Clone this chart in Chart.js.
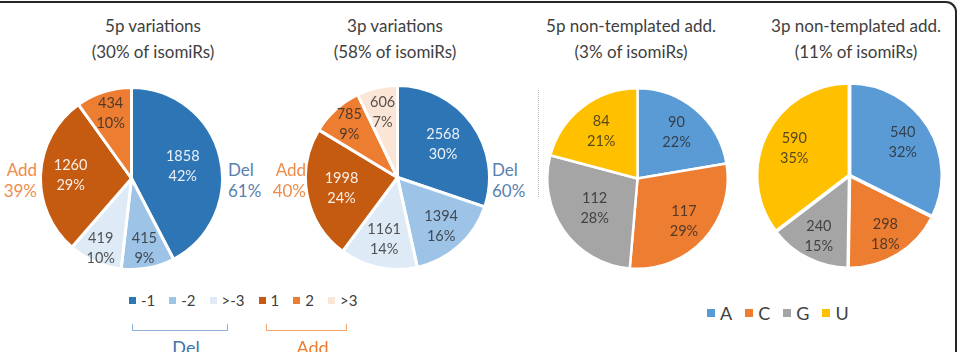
<!DOCTYPE html>
<html>
<head>
<meta charset="utf-8">
<script src="https://cdn.jsdelivr.net/npm/chart.js@4.4.1/dist/chart.umd.min.js"></script>
<style>
  html,body{margin:0;padding:0;background:#fff;}
  body{width:961px;height:352px;position:relative;overflow:hidden;font-family:Lato,"Open Sans",sans-serif;}
  #frame{position:absolute;left:-20px;top:1px;width:977px;height:400px;border-top:2px solid #262626;border-right:2px solid #262626;border-top-right-radius:11px;box-sizing:border-box;}
  canvas{position:absolute;}
  .title{position:absolute;text-align:center;color:#404040;font-size:17px;line-height:26px;white-space:nowrap;transform:translateX(-50%);}
  .side{position:absolute;font-size:17px;line-height:21px;white-space:nowrap;}
  .legend{position:absolute;display:flex;align-items:center;color:#404040;white-space:nowrap;}
  .legend .it{display:flex;align-items:center;}
  .legend .sw{display:inline-block;}
  .bracket{position:absolute;box-sizing:border-box;border:1.5px solid;border-top:none;}
  .blab{position:absolute;font-size:18px;transform:translateX(-50%);white-space:nowrap;}
  #sep{position:absolute;left:538px;top:90px;height:107px;width:0;border-left:1.5px dotted #b8b8b8;}
</style>
</head>
<body>
<div id="frame"></div>
<div id="sep"></div>

<script>
// ---------------- data ----------------
const varCategories = ["-1", "-2", ">-3", "1", "2", ">3"];
const fiveP_values  = [1858, 415, 419, 1260, 434, 0];
const fiveP_pcts    = [42, 9, 10, 29, 10, 0];
const threeP_values = [2568, 1394, 1161, 1998, 785, 606];
const threeP_pcts   = [30, 16, 14, 24, 9, 7];
const groupNames    = ["Del", "Add"];
const fiveP_groupPcts  = [61, 39];
const threeP_groupPcts = [60, 40];

const ntaCategories  = ["A", "C", "G", "U"];
const fiveNTA_values = [90, 117, 112, 84];
const fiveNTA_pcts   = [22, 29, 28, 21];
const threeNTA_values = [540, 298, 240, 590];
const threeNTA_pcts   = [32, 18, 15, 35];

const chartTitles = [
  ["5p variations", "(30% of isomiRs)"],
  ["3p variations", "(58% of isomiRs)"],
  ["5p non-templated add.", "(3% of isomiRs)"],
  ["3p non-templated add.", "(11% of isomiRs)"]
];

// ---------------- styles ----------------
const varColors = ["#2e75b6", "#9dc3e6", "#deebf7", "#c55a11", "#ed7d31", "#fbe5d6"];
const ntaColors = ["#5b9bd5", "#ed7d31", "#a5a5a5", "#ffc000"];
const DARK = "rgba(38,38,38,0.78)";
const LIGHT = "rgba(255,255,255,0.9)";

const sliceLabels = {
  id: 'sliceLabels',
  afterDatasetsDraw(chart, args, opts) {
    const ctx = chart.ctx;
    const meta = chart.getDatasetMeta(0);
    const ds = chart.data.datasets[0];
    meta.data.forEach((arc, i) => {
      if (!ds.data[i]) return;
      const p = arc.getProps(['x','y','startAngle','endAngle','outerRadius'], true);
      const mid = (p.startAngle + p.endAngle) / 2;
      const f = opts.dist[i];
      const px = p.x + Math.cos(mid) * p.outerRadius * f;
      const py = p.y + Math.sin(mid) * p.outerRadius * f;
      ctx.save();
      ctx.font = '14.5px Lato, "Open Sans", sans-serif';
      ctx.textAlign = 'center';
      ctx.textBaseline = 'middle';
      ctx.fillStyle = opts.colors[i];
      ctx.fillText(String(ds.data[i]), px, py - 10);
      ctx.fillText(opts.pcts[i] + '%', px, py + 10);
      ctx.restore();
    });
  }
};

function makePie(cx, cy, r, bw, off, labels, values, colors, pcts, labelColors, dist) {
  const S = Math.round(2 * r + bw + 2 * off);
  const cv = document.createElement('canvas');
  cv.width = S; cv.height = S;
  cv.style.left = (cx - S / 2) + 'px';
  cv.style.top = (cy - S / 2) + 'px';
  cv.style.width = S + 'px'; cv.style.height = S + 'px';
  document.body.appendChild(cv);
  new Chart(cv, {
    type: 'pie',
    data: { labels: labels, datasets: [{ data: values, backgroundColor: colors,
      borderColor: '#ffffff', borderWidth: bw, offset: off }] },
    options: {
      responsive: false, animation: false, devicePixelRatio: 1,
      layout: { padding: 0 },
      plugins: { legend: { display: false }, tooltip: { enabled: false },
        sliceLabels: { pcts: pcts, colors: labelColors, dist: dist } }
    },
    plugins: [sliceLabels]
  });
}

makePie(131, 178, 91, 3, 0, varCategories, fiveP_values, varColors, fiveP_pcts,
  [LIGHT, DARK, DARK, LIGHT, DARK, DARK], [0.58, 0.78, 0.84, 0.67, 0.75, 0.7]);
makePie(397, 177, 92, 3, 0, varCategories, threeP_values, varColors, threeP_pcts,
  [LIGHT, DARK, DARK, LIGHT, DARK, DARK], [0.61, 0.71, 0.69, 0.62, 0.78, 0.73]);
makePie(637, 178, 90, 2.5, 0, ntaCategories, fiveNTA_values, ntaColors, fiveNTA_pcts,
  [DARK, DARK, DARK, DARK], [0.67, 0.70, 0.58, 0.66]);
makePie(849, 175, 91, 3, 2, ntaCategories, threeNTA_values, ntaColors, threeNTA_pcts,
  [DARK, DARK, DARK, DARK], [0.68, 0.75, 0.74, 0.67]);

// ---------------- titles ----------------
const titleX = [153, 395, 631, 856];
chartTitles.forEach((t, i) => {
  const d = document.createElement('div');
  d.className = 'title';
  d.style.left = titleX[i] + 'px';
  d.style.top = '13px';
  d.innerHTML = t[0] + '<br>' + t[1];
  document.body.appendChild(d);
});

// ---------------- Del / Add side labels ----------------
function side(text, pct, x, align, color) {
  const d = document.createElement('div');
  d.className = 'side';
  d.style.top = '159px';
  d.style.color = color;
  d.style.textAlign = align;
  if (align === 'right') { d.style.right = (961 - x) + 'px'; } else { d.style.left = x + 'px'; }
  d.innerHTML = text + '<br>' + pct + '%';
  document.body.appendChild(d);
}
const delColor = "#5a80ad", addColor = "#ef8b4b";
side(groupNames[0], fiveP_groupPcts[0], 228, 'left', delColor);
side(groupNames[1], fiveP_groupPcts[1], 37, 'right', addColor);
side(groupNames[0], threeP_groupPcts[0], 492, 'left', delColor);
side(groupNames[1], threeP_groupPcts[1], 306, 'right', addColor);

// ---------------- legends ----------------
function legend(cats, colors, left, top, fs, sq, gap) {
  const L = document.createElement('div');
  L.className = 'legend';
  L.style.left = left + 'px'; L.style.top = top + 'px';
  L.style.fontSize = fs + 'px';
  L.style.gap = gap + 'px';
  cats.forEach((c, i) => {
    const it = document.createElement('span'); it.className = 'it';
    const sw = document.createElement('span'); sw.className = 'sw';
    sw.style.width = sq + 'px'; sw.style.height = sq + 'px';
    sw.style.background = colors[i]; sw.style.marginRight = '5px';
    it.appendChild(sw);
    it.appendChild(document.createTextNode(c));
    L.appendChild(it);
  });
  document.body.appendChild(L);
}
legend(varCategories, varColors, 129, 291, 15, 7, 14);
legend(ntaCategories, ntaColors, 707, 302, 18, 8, 13);

// brackets
function bracket(x1, x2, y1, y2, color, text, textColor) {
  const b = document.createElement('div');
  b.className = 'bracket';
  b.style.left = x1 + 'px'; b.style.top = y1 + 'px';
  b.style.width = (x2 - x1) + 'px'; b.style.height = (y2 - y1) + 'px';
  b.style.borderColor = color;
  document.body.appendChild(b);
  const t = document.createElement('div');
  t.className = 'blab';
  t.style.left = ((x1 + x2) / 2 + 6) + 'px'; t.style.top = '336px';
  t.style.color = textColor;
  t.textContent = text;
  document.body.appendChild(t);
}
bracket(132, 228, 324, 331, "#8db3da", groupNames[0], "#3f73ab");
bracket(266, 347, 324, 331, "#f2a56e", groupNames[1], "#ed7d31");
</script>
</body>
</html>
